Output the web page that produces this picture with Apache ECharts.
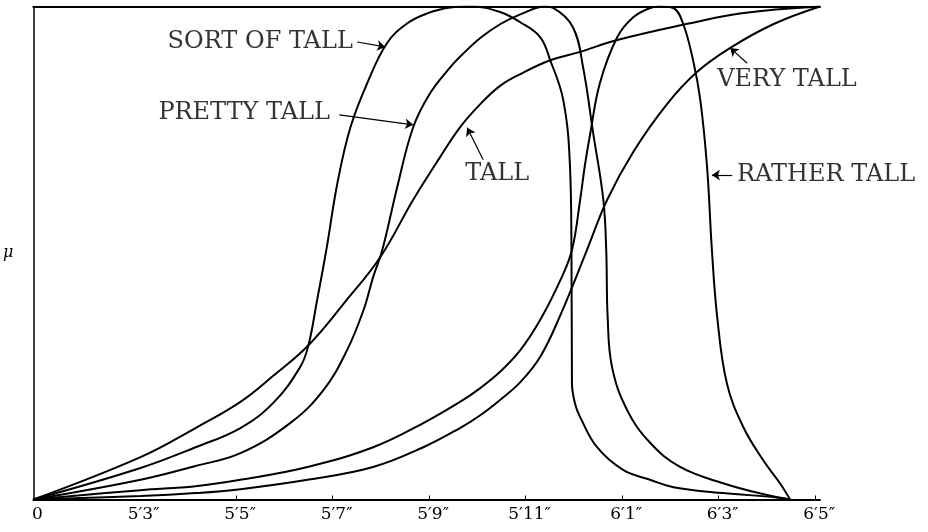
<!DOCTYPE html>
<html>
<head>
<meta charset="utf-8">
<script src="https://cdn.jsdelivr.net/npm/echarts@6/dist/echarts.min.js"></script>
<style>
html,body{margin:0;padding:0;background:#fff;}
#chart{width:928px;height:532px;}
</style>
</head>
<body>
<div id="chart"></div>
<script>
// ---- axis ----
const xMin = 60.8, xMax = 77.1;           // height in inches ("0" marks the broken start)
const tickValues = [60.8, 63, 65, 67, 69, 71, 73, 75, 77];
const tickLabels = ['0', '5′3″', '5′5″', '5′7″', '5′9″', '5′11″', '6′1″', '6′3″', '6′5″'];
const tickMarkValues = [65, 67, 69, 71, 73, 75, 77];

// ---- curves: [height (in), membership μ] ----
const sortOfTall = [[60.80,0],[63.02,0.064],[64.16,0.106],[65.09,0.145],[65.77,0.196],[66.33,0.269],[66.50,0.313],[66.68,0.405],[66.87,0.506],[67.10,0.642],[67.37,0.755],[67.72,0.845],[68.13,0.926],[68.55,0.966],[68.96,0.986],[69.44,0.998],[69.85,1.0],[70.47,0.989],[70.89,0.968],[71.30,0.938],[71.51,0.891],[71.78,0.810],[71.92,0.674],[71.95,0.506],[71.96,0.236],[72.03,0.192],[72.13,0.167],[72.48,0.106],[73.02,0.060],[73.58,0.040],[74.06,0.025],[75.09,0.013],[76.13,0.005],[76.48,0]];
const prettyTall = [[60.80,0],[63.02,0.040],[64.16,0.068],[65.09,0.094],[66.12,0.155],[66.81,0.222],[67.30,0.303],[67.64,0.384],[67.84,0.451],[68.03,0.506],[68.34,0.634],[68.67,0.755],[69.02,0.824],[69.44,0.877],[69.64,0.898],[70.06,0.936],[70.47,0.964],[70.89,0.984],[71.40,1.0],[71.57,0.997],[71.98,0.958],[72.19,0.877],[72.40,0.743],[72.61,0.608],[72.67,0.506],[72.70,0.370],[72.79,0.269],[73.10,0.182],[73.58,0.115],[74.20,0.066],[75.09,0.033],[76.00,0.009],[76.48,0]];
const tall = [[60.80,0],[63.02,0.086],[64.16,0.145],[65.09,0.198],[65.77,0.251],[66.50,0.313],[67.26,0.401],[67.99,0.492],[68.67,0.608],[69.23,0.695],[69.64,0.755],[70.06,0.802],[70.47,0.839],[70.89,0.863],[71.51,0.891],[72.13,0.908],[72.90,0.932],[74.41,0.966],[75.44,0.986],[77.10,1.0]];
const ratherTall = [[60.80,0],[63.02,0.019],[64.16,0.027],[65.09,0.040],[66.48,0.066],[67.84,0.106],[68.88,0.155],[69.64,0.198],[70.06,0.226],[70.47,0.259],[70.89,0.303],[71.30,0.364],[71.72,0.445],[71.96,0.506],[72.13,0.608],[72.23,0.679],[72.34,0.743],[72.54,0.845],[72.90,0.938],[73.23,0.978],[73.58,0.997],[73.79,1.0],[74.06,0.997],[74.26,0.966],[74.47,0.891],[74.62,0.810],[74.76,0.674],[74.86,0.506],[74.97,0.370],[75.17,0.236],[75.51,0.147],[75.92,0.080],[76.27,0.033],[76.48,0]];
const veryTall = [[60.80,0],[63.02,0.007],[64.16,0.013],[65.09,0.021],[66.48,0.040],[67.84,0.066],[68.88,0.106],[69.64,0.145],[70.06,0.171],[70.47,0.202],[70.89,0.238],[71.30,0.289],[71.72,0.374],[72.27,0.506],[72.69,0.608],[73.23,0.705],[73.93,0.802],[74.55,0.867],[75.24,0.916],[76.13,0.964],[77.10,1.0]];

// ---- annotations ----
const annotationTexts = ['SORT OF TALL', 'PRETTY TALL', 'TALL', 'RATHER TALL', 'VERY TALL'];
const annotationTextPos = [[63.58,0.929],[63.39,0.784],[69.75,0.660],[75.38,0.658],[74.97,0.852]];
const arrowStart = [[67.51,0.928],[67.14,0.780],[70.12,0.689],[75.28,0.658],[75.59,0.885]];
const arrowEnd   = [[68.09,0.918],[68.67,0.760],[69.79,0.754],[74.86,0.658],[75.24,0.916]];

const SERIF = 'DejaVu Serif';
const curve = (name, data) => ({
  name, type: 'line', data, smooth: 0.4, showSymbol: false, symbol: 'none',
  lineStyle: { color: '#000', width: 2 }, silent: true, z: 3
});

const chart = echarts.init(document.getElementById('chart'), null, { renderer: 'canvas' });
chart.setOption({
  animation: false,
  backgroundColor: '#fff',
  grid: { left: 33, right: 108, top: 6.5, bottom: 32.5, containLabel: false },
  xAxis: [{
    type: 'value', min: xMin, max: xMax, position: 'bottom',
    axisLine: { show: true, onZero: false, lineStyle: { color: '#000', width: 2 } },
    axisTick: { show: true, inside: true, length: 4, customValues: tickMarkValues, lineStyle: { color: '#000', width: 1 } },
    axisLabel: {
      show: true, customValues: tickValues, color: '#000', fontFamily: SERIF, fontSize: 17, margin: 7,
      padding: [0, 0, 0, 8],
      formatter: v => { const i = tickValues.findIndex(t => Math.abs(t - v) < 1e-6); return i >= 0 ? tickLabels[i] : ''; }
    },
    splitLine: { show: false }
  }, {
    type: 'value', min: xMin, max: xMax, position: 'top',
    axisLine: { show: true, onZero: false, lineStyle: { color: '#000', width: 2 } },
    axisTick: { show: false }, axisLabel: { show: false }, splitLine: { show: false }
  }],
  yAxis: {
    type: 'value', min: 0, max: 1, name: 'μ', nameLocation: 'middle', nameGap: 20, nameRotate: 0,
    nameTextStyle: { color: '#000', fontFamily: SERIF, fontStyle: 'italic', fontSize: 16 },
    axisLine: { show: true, onZero: false, lineStyle: { color: '#000', width: 1.5 } },
    axisTick: { show: false }, axisLabel: { show: false }, splitLine: { show: false }
  },
  series: [
    curve('SORT OF TALL', sortOfTall),
    curve('PRETTY TALL', prettyTall),
    curve('TALL', tall),
    curve('RATHER TALL', ratherTall),
    curve('VERY TALL', veryTall),
    {
      name: 'labels', type: 'scatter', symbolSize: 0, silent: true, z: 5,
      data: annotationTextPos.map((p, i) => ({ value: p, name: annotationTexts[i] })),
      label: { show: true, position: 'right', distance: 0, formatter: '{b}', color: '#000', fontFamily: SERIF, fontSize: 24 },
      markLine: {
        silent: true, symbol: ['none', 'arrow'], symbolSize: 8, precision: 4,
        lineStyle: { color: '#000', width: 1.2, type: 'solid' },
        label: { show: false },
        data: arrowStart.map((s, i) => [{ coord: s }, { coord: arrowEnd[i] }])
      }
    }
  ]
});
</script>
</body>
</html>
